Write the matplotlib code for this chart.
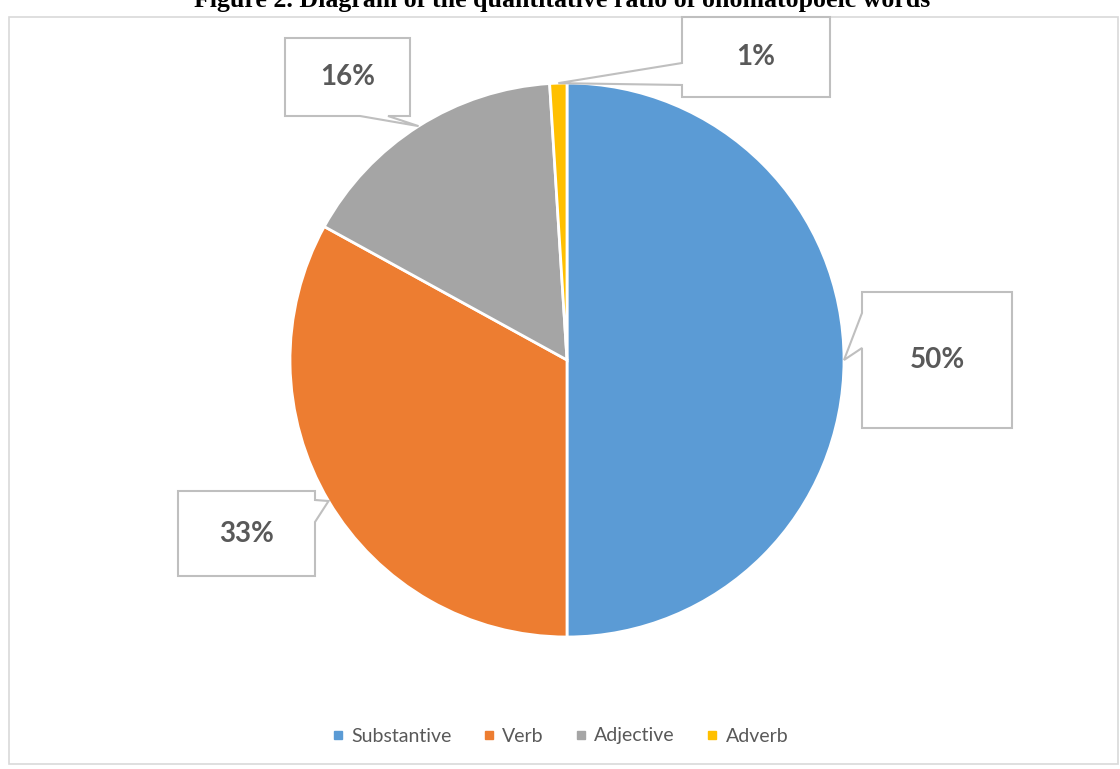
import numpy as np
import matplotlib
matplotlib.use("Agg")
import matplotlib.pyplot as plt
from matplotlib.patches import Polygon, Rectangle
from matplotlib.lines import Line2D

#   data
categories = ['Substantive', 'Verb', 'Adjective', 'Adverb']
shares = [50, 33, 16, 1]
colors = ['#5B9BD5', '#ED7D31', '#A5A5A5', '#FFC000']
title = "Figure 2. Diagram of the quantitative ratio of onomatopoeic words"

W, H = 1120, 769

#   callout boxes (top-down pixels): box, side of the pointer, pointer base
callouts = [
    ((862, 292, 1012, 428), 'left', (313, 348)),
    ((178, 491, 315, 576), 'right', (500, 522)),
    ((285, 38, 410, 116), 'bottom', (360, 388)),
    ((682, 17, 830, 97), 'left', (63, 85)),
]

fig = plt.figure(figsize=(W / 100, H / 100), dpi=100)
ax = fig.add_axes([0, 0, 1, 1])

cx, cy, r = 567, H - 360, 277
wedges, _ = ax.pie(shares, colors=colors, startangle=90, counterclock=False,
                   center=(cx, cy), radius=r,
                   wedgeprops=dict(edgecolor='white', linewidth=2))
ax.set_xlim(0, W)
ax.set_ylim(0, H)
ax.set_aspect('auto')
ax.axis('off')

# chart border
ax.add_patch(Rectangle((9, H - 764), 1109, 747, fill=False,
                       edgecolor='#d9d9d9', linewidth=1.2))

for w, val, (box, side, base) in zip(wedges, shares, callouts):
    mid = np.deg2rad((w.theta1 + w.theta2) / 2)
    tip = (cx + r * np.cos(mid), cy + r * np.sin(mid))
    x0, y0, x1, y1 = box
    y0, y1 = H - y0, H - y1   # y0 top, y1 bottom (flipped)
    if side == 'left':
        b0, b1 = H - base[0], H - base[1]
        pts = [(x0, y0), (x1, y0), (x1, y1), (x0, y1), (x0, b1), tip, (x0, b0)]
    elif side == 'right':
        b0, b1 = H - base[0], H - base[1]
        pts = [(x0, y0), (x1, y0), (x1, b0), tip, (x1, b1), (x1, y1), (x0, y1)]
    else:
        pts = [(x0, y0), (x1, y0), (x1, y1), (base[1], y1), tip, (base[0], y1), (x0, y1)]
    ax.add_patch(Polygon(pts, closed=True, facecolor='white',
                         edgecolor='#bfbfbf', linewidth=1.5, zorder=3))
    ax.text((x0 + x1) / 2, (y0 + y1) / 2, "{}%".format(val), ha='center', va='center',
            fontsize=20, fontweight='bold', color='#595959', family='Lato', zorder=4)

handles = [Line2D([], [], marker='s', linestyle='none', markersize=6,
                  markerfacecolor=c, markeredgecolor=c) for c in colors]
ax.legend(handles, categories, loc='center', bbox_to_anchor=(0.5, 1 - 736 / H),
          ncol=4, frameon=False, handlelength=0.6, handletextpad=0.4,
          columnspacing=1.6, prop=dict(family='Lato', size=14), labelcolor='#595959')

#   title is cut off at the top edge, as in the source figure
ax.text(562, H - 7, title, ha='center', va='baseline', fontsize=18.6,
        fontweight='bold', family='Liberation Serif', color='black')

fig.savefig('out.png', dpi=100)
